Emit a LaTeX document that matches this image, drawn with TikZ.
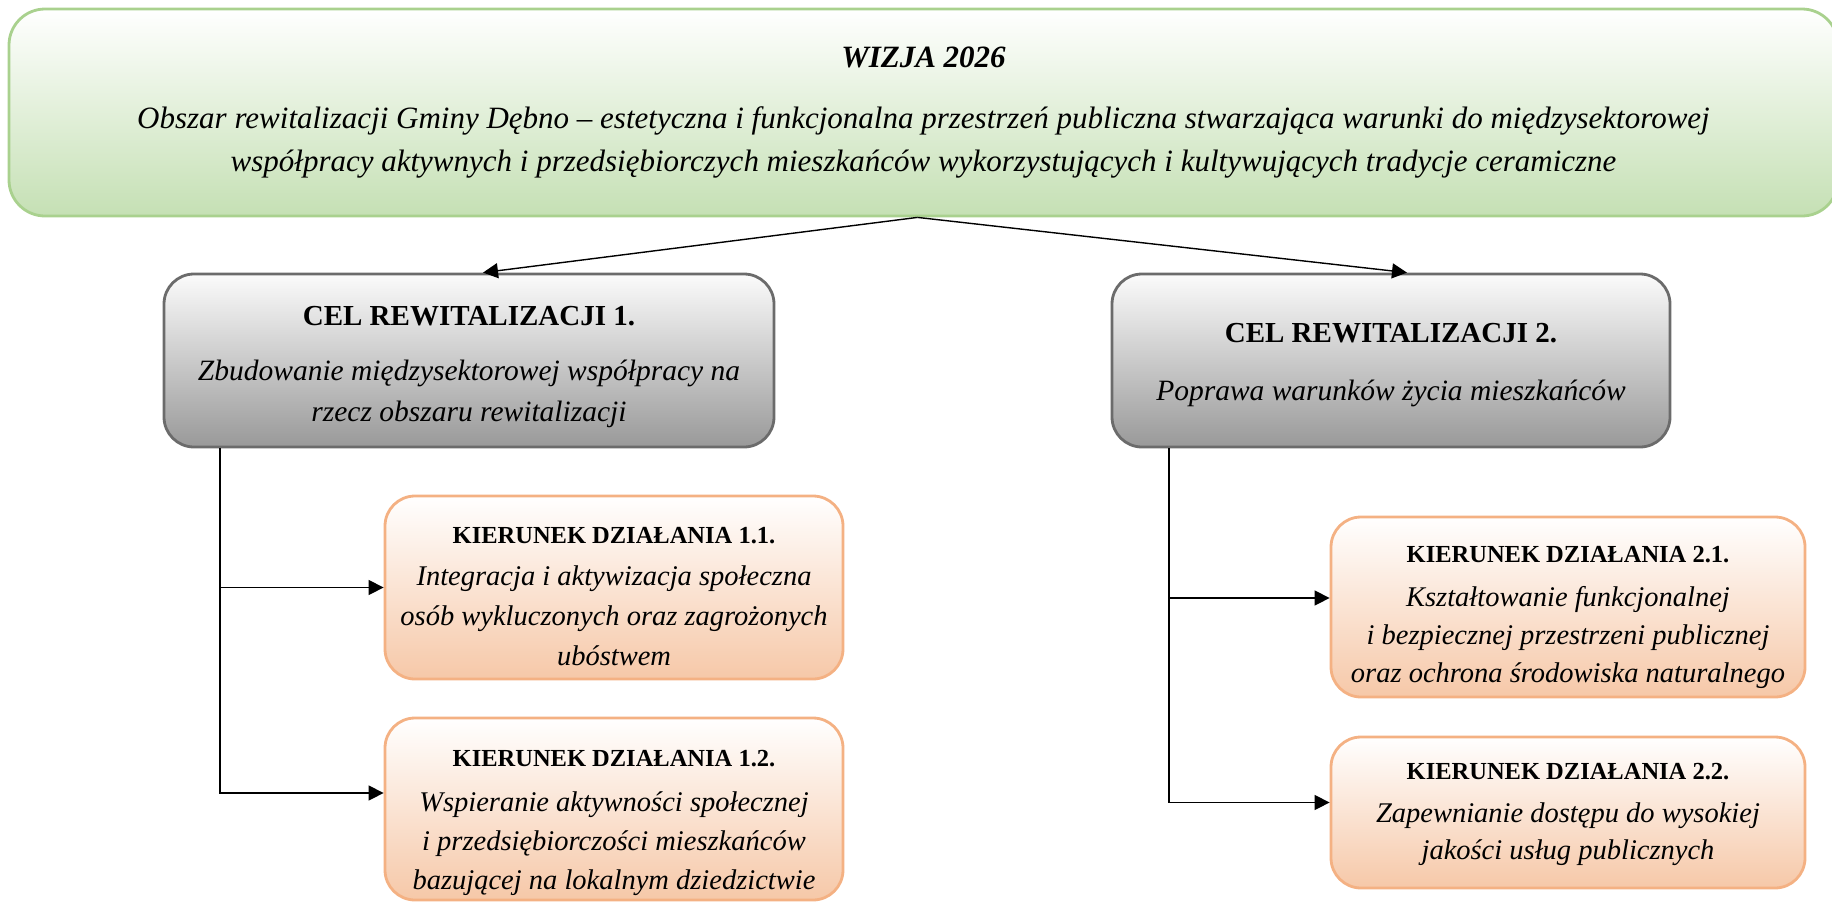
\documentclass[tikz,border=0pt]{standalone}
\usepackage{fontspec}
\setmainfont{Liberation Serif}
\usetikzlibrary{arrows.meta}
\definecolor{visborder}{HTML}{A9D18E}
\definecolor{visfill}{HTML}{C5E0B4}
\definecolor{celborder}{HTML}{6B6B6B}
\definecolor{celtop}{HTML}{FBFBFB}
\definecolor{celbot}{HTML}{999999}
\definecolor{kborder}{HTML}{F4B183}
\definecolor{kfill}{HTML}{F6C8A8}
\begin{document}
\begin{tikzpicture}[x=1pt,y=-1pt,
  box/.style={line width=2.8pt, inner sep=0pt},
  vis/.style={box, rounded corners=36pt, draw=visborder, top color=white, bottom color=visfill,
    minimum width=1829pt, minimum height=207pt},
  vistext/.style={align=center, inner sep=0pt, font=\fontsize{31}{43}\selectfont\itshape},
  cel/.style={box, rounded corners=30pt, draw=celborder, top color=celtop, bottom color=celbot,
    minimum height=173pt},
  celtext/.style={align=center, inner sep=0pt, font=\fontsize{29.5}{41}\selectfont\itshape},
  kier/.style={box, rounded corners=30pt, draw=kborder, top color=white, bottom color=kfill},
  kiertext/.style={align=center, inner sep=0pt, font=\fontsize{28.5}{#1}\selectfont\itshape},
  kiertext/.default=40,
  arr/.style={-{Triangle[length=15pt,width=15pt]}, line width=1.4pt}
]
\useasboundingbox (0,0) rectangle (1832,903);

% shapes
\node[vis] (vis) at (923.5,112.5) {};
\node[cel, minimum width=610pt] (g1) at (469,360.5) {};
\node[cel, minimum width=558pt] (g2) at (1391,360.5) {};
\node[kier, minimum width=458pt, minimum height=183pt] (o11) at (614,587.5) {};
\node[kier, minimum width=458pt, minimum height=182pt] (o12) at (614,809) {};
\node[kier, minimum width=474pt, minimum height=180pt] (o21) at (1568,607) {};
\node[kier, minimum width=474pt, minimum height=151pt] (o22) at (1568,812.5) {};

% texts
\node[vistext] (vist) at (vis.center) {{\bfseries WIZJA 2026}\\[18pt]
Obszar rewitalizacji Gminy Dębno – estetyczna i funkcjonalna przestrzeń publiczna stwarzająca warunki do międzysektorowej\\
współpracy aktywnych i przedsiębiorczych mieszkańców wykorzystujących i kultywujących tradycje ceramiczne};

\node[celtext] (g1t) at ([yshift=-7pt]g1.center) {{\upshape\bfseries\fontsize{29}{41}\selectfont CEL REWITALIZACJI 1.}\\[14pt]
Zbudowanie międzysektorowej współpracy na\\ rzecz obszaru rewitalizacji};

\node[celtext] (g2t) at ([yshift=-5pt]g2.center) {{\upshape\bfseries\fontsize{29}{41}\selectfont CEL REWITALIZACJI 2.}\\[17pt]
Poprawa warunków życia mieszkańców};

\node[kiertext=40] (o11t) at ([yshift=-9pt]o11.center) {{\upshape\bfseries\fontsize{24.5}{30}\selectfont KIERUNEK DZIAŁANIA 1.1.}\\[2pt]
Integracja i aktywizacja społeczna\\ osób wykluczonych oraz zagrożonych\\ ubóstwem};

\node[kiertext=39] (o12t) at ([yshift=-14pt]o12.center) {{\upshape\bfseries\fontsize{24.5}{30}\selectfont KIERUNEK DZIAŁANIA 1.2.}\\[6pt]
Wspieranie aktywności społecznej\\ i przedsiębiorczości mieszkańców\\ bazującej na lokalnym dziedzictwie};

\node[kiertext=38] (o21t) at ([yshift=-10pt]o21.center) {{\upshape\bfseries\fontsize{24.5}{30}\selectfont KIERUNEK DZIAŁANIA 2.1.}\\[6pt]
Kształtowanie funkcjonalnej\\ i bezpiecznej przestrzeni publicznej\\ oraz ochrona środowiska naturalnego};

\node[kiertext=37] (o22t) at ([yshift=-2pt]o22.center) {{\upshape\bfseries\fontsize{24.5}{30}\selectfont KIERUNEK DZIAŁANIA 2.2.}\\[6pt]
Zapewnianie dostępu do wysokiej\\ jakości usług publicznych};

% connectors
\coordinate (x1) at (220,0);
\coordinate (x2) at (1169,0);

\draw[arr] ([xshift=-6pt]vis.south) -- ([xshift=14pt]g1.north);
\draw[arr] ([xshift=-6pt]vis.south) -- ([xshift=16pt]g2.north);

\draw[arr] (g1.south -| x1) |- ([yshift=16pt]o12.west);
\draw[arr] (o11.west -| x1) -- (o11.west);

\draw[arr] (g2.south -| x2) |- ([yshift=10pt]o22.west);
\draw[arr] ([yshift=9pt]o21.west -| x2) -- ([yshift=9pt]o21.west);
\end{tikzpicture}
\end{document}
